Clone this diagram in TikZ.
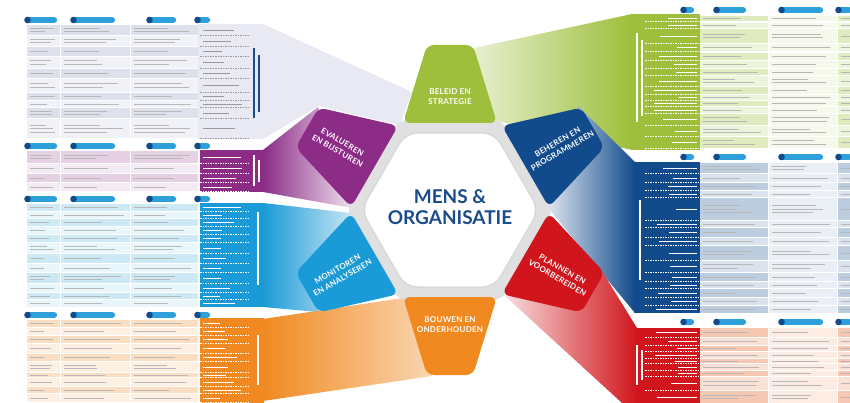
\documentclass[tikz,border=0pt]{standalone}
\usepackage{fontspec}
\setmainfont{Lato}
\newfontfamily\segfont[LetterSpace=3]{Lato}
\definecolor{mgreen}{RGB}{157,191,59}
\definecolor{mnavy}{RGB}{17,75,140}
\definecolor{mred}{RGB}{208,22,28}
\definecolor{morange}{RGB}{240,138,32}
\definecolor{mblue}{RGB}{26,154,214}
\definecolor{mpurple}{RGB}{140,44,135}
\definecolor{mlav}{RGB}{232,233,242}
\definecolor{mgrijs}{RGB}{222,224,235}
\definecolor{msalm}{RGB}{246,200,178}
\definecolor{mtitle}{RGB}{26,76,138}
\definecolor{mpill}{RGB}{45,160,220}
\newcommand{\tekstregels}[4]{%
  \pgfmathtruncatemacro\nregels{min(3,max(1,(#4-#3)/5))}
  \foreach \kk in {1,...,\nregels}{
    \pgfmathsetmacro\regely{(#3+#4)/2+(\kk-(\nregels+1)/2)*3.6}
    \pgfmathsetmacro\regell{(#2-#1-6)*(0.5+0.45*rnd)}
    \draw[tekst] ({#1+3},\regely) -- ++(\regell,0);
  }}
\newcommand{\linkstabel}[4]{%
  \foreach \ya/\yb [count=\nr] in {#1}{
    \ifodd\nr\relax\def\tint{#2}\else\def\tint{#3}\fi
    \foreach \xa/\xb in {27/60,61/130,131/198}{
      \fill[\tint] (\xa,\ya) rectangle (\xb,\yb);
      \tekstregels{\xa}{\xb}{\ya}{\yb}
    }
    \pgfmathsetmacro\regell{15+25*rnd}
    \draw[#4,line width=.8pt] (203,{(\ya+\yb)/2}) -- ++(\regell,0);
    \draw[#4,dash pattern=on 1.5pt off 1pt,line width=.4pt] (200,\yb+.5) -- (250,\yb+.5);
  }}
\newcommand{\rechtstabel}[4]{%
  \foreach \ya/\yb [count=\nr] in {#1}{
    \ifodd\nr\relax\def\tint{#2}\else\def\tint{#3}\fi
    \fill[\tint] (700,\ya) rectangle (768,\yb);
    \fill[#4] (769,\ya) rectangle (837,\yb);
    \fill[\tint] (838,\ya) rectangle (850,\yb);
    \tekstregels{700}{768}{\ya}{\yb}
    \tekstregels{769}{837}{\ya}{\yb}
    \draw[tekst] (841,{(\ya+\yb)/2}) -- (850,{(\ya+\yb)/2});
    \pgfmathsetmacro\regell{18+25*rnd}
    \draw[white,line width=.8pt] (697,{(\ya+\yb)/2}) -- ++(-\regell,0);
    \draw[white,dash pattern=on 1.5pt off 1pt,line width=.4pt] (645,\yb+.5) -- (699,\yb+.5);
  }}
\newcommand{\kopjes}[2]{%
  \foreach \xa/\xb in {#2}{
    \fill[mpill,rounded corners=2.5pt] (\xa,#1-2.8) rectangle (\xb,#1+2.8);
    \fill[mnavy] (\xa+2.5,#1) circle (3.3pt);
  }}
\begin{document}
\begin{tikzpicture}[x=1pt,y=-1pt,
  tekst/.style={black!28,line width=.7pt},
  titel/.style={line width=1.5pt},
  segtekst/.style={white,font=\segfont\bfseries\fontsize{8}{10}\selectfont,align=center},
  kerntekst/.style={mtitle,font=\bfseries\fontsize{19}{21}\selectfont,align=center}]
\useasboundingbox (0,0) rectangle (850,403);
\pgfmathsetseed{7}
\fill[mlav] (198,24) -- (263,24) -- (412,92) -- (400,125) -- (318,106) -- (263,139) -- (198,139) -- cycle;
\linkstabel{25/35,36/46,47/56,57/68,69/78,79/92,93/100,101/107,108/118,119/138}{mgrijs}{mlav!60!white}{black!40}
\draw[titel,mtitle] (254,48) -- (254,118) (259,55) -- (259,112);
\kopjes{20}{25/57,71/115,147/176,195/210}
\fill[mpurple] (200,150) rectangle (264,192);
\shade[left color=mpurple,right color=mpurple!15] (263,150) -- (318,107) -- (352,208) -- (263,192) -- cycle;
\linkstabel{151/163,164/173,174/182,183/191}{mpurple!22}{mpurple!10}{white}
\draw[titel,white] (254,155) -- (254,186) (259,160) -- (259,182);
\kopjes{146}{25/57,71/115,147/176,195/210}
\fill[mblue] (200,203) rectangle (264,307);
\shade[left color=mblue,right color=mblue!25] (263,203) -- (351,213) -- (318,312) -- (263,307) -- cycle;
\linkstabel{204/211,212/218,219/226,227/234,235/242,243/253,254/263,264/272,273/283,284/292,293/299,300/307}{mblue!22}{mblue!10}{white}
\draw[titel,white] (258,212) -- (258,285);
\kopjes{199}{25/57,71/115,147/176,195/210}
\fill[morange] (200,318) rectangle (264,403);
\shade[left color=morange,right color=morange!35] (263,319) -- (410,297) -- (432,376) -- (263,401) -- cycle;
\linkstabel{320/327,328/335,336/343,344/353,354/361,362/372,373/377,378/386,387/393,394/402}{morange!28}{morange!13}{white}
\draw[titel,white] (258,335) -- (258,385);
\kopjes{315}{25/57,71/115,147/176,195/210}
\shade[left color=mgreen!20,right color=mgreen] (465,50) -- (632,14) -- (632,150) -- (492,120) -- cycle;
\fill[mgreen] (631,14) rectangle (700,150);
\rechtstabel{16/21,23/28,29/43,44/51,53/60,61/68,69/75,76/86,87/94,95/100,101/106,107/113,114/125,126/136,137/148}{mgreen!32}{mgreen!18}{mgreen!10}
\draw[titel,white] (637,33) -- (637,122) (642,40) -- (642,116);
\kopjes{10}{681/694,714/746,779/823,836/852}
\shade[left color=mnavy!15,right color=mnavy] (578,106) -- (635,162) -- (635,313) -- (549,209) -- cycle;
\fill[mnavy] (634,162) rectangle (700,313);
\rechtstabel{163/173,174/182,183/190,191/197,198/220,221/227,228/237,238/245,246/260,261/272,273/281,282/288,289/297,298/305,306/313}{mnavy!28}{mnavy!16}{mnavy!9}
\draw[titel,white] (640,200) -- (640,280);
\kopjes{157}{681/694,714/746,779/823,836/852}
\shade[left color=mred!15,right color=mred] (600,268) -- (637,328) -- (637,403) -- (622,403) -- (505,296) -- cycle;
\fill[mred] (636,328) rectangle (700,403);
\rechtstabel{328/337,338/345,346/351,352/358,359/363,364/370,371/376,377/390,391/403}{msalm}{msalm!55!white}{msalm!35!white}
\draw[titel,white] (637,345) -- (637,385) (642,350) -- (642,380);
\kopjes{322}{681/694,714/746,779/823,836/852}
\begin{scope}[shift={(450,210)}]
\fill[black!12,rounded corners=10] (0:104) -- (60:104) -- (120:104) -- (180:104) -- (240:104) -- (300:104) -- cycle;
\foreach \ang/\col/\txt/\trot/\afst [count=\nr] in {0/mgreen/{BELEID EN\\STRATEGIE}/0/113,-60/mnavy/{BEHEREN EN\\PROGRAMMEREN}/30/127,-120/mred/{PLANNEN EN\\VOORBEREIDEN}/-30/127,180/morange/{BOUWEN EN\\ONDERHOUDEN}/0/115,120/mblue/{MONITOREN\\EN ANALYSEREN}/30/127,60/mpurple/{EVALUEREN\\EN BIJSTUREN}/-30/127}{
  \begin{scope}[rotate=\ang]
  \fill[\col,rounded corners=7] (-47,-87) -- (47,-87) -- (23,-165) -- (-23,-165) -- cycle;
  \node[segtekst,rotate=\trot] (seg\nr) at (0,-\afst) {\txt};
  \end{scope}
}
\fill[white,draw=black!15,line width=1.5pt,rounded corners=12] (0:89) -- (60:89) -- (120:89) -- (180:89) -- (240:89) -- (300:89) -- cycle;
\end{scope}
\node[kerntekst] (kern) at (450,207) {MENS \&\\ORGANISATIE};
\end{tikzpicture}
\end{document}
